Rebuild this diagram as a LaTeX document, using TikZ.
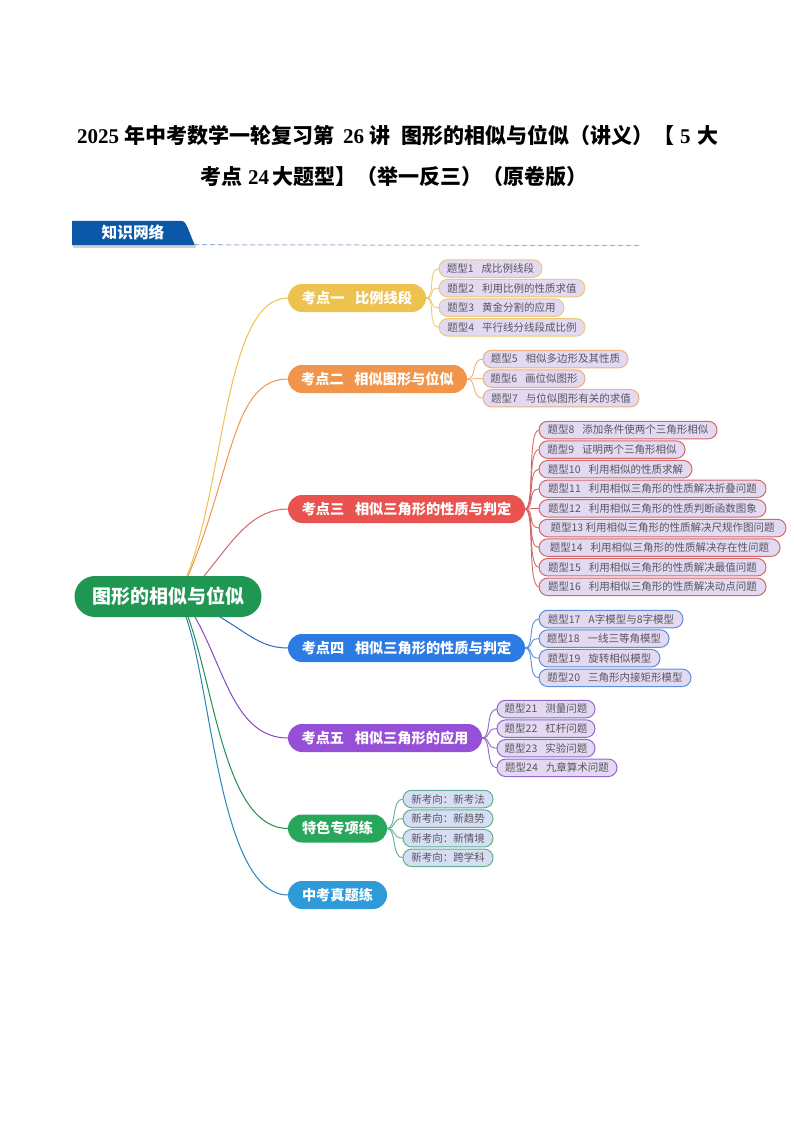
\documentclass[tikz,border=0pt]{standalone}
\usepackage{fontspec}
\setmainfont{Noto Sans CJK SC}
\newfontfamily\digitfont{Liberation Serif}
\usetikzlibrary{positioning}
\definecolor{kdyellow}{HTML}{EEC24F}
\definecolor{kdorange}{HTML}{F0954B}
\definecolor{kdred}{HTML}{E9534F}
\definecolor{kdblue}{HTML}{2C7BE5}
\definecolor{kdpurple}{HTML}{9650D8}
\definecolor{kdgreen}{HTML}{28A65B}
\definecolor{kdcyan}{HTML}{2E9BD8}
\definecolor{rootgreen}{HTML}{1F9651}
\definecolor{tabblue}{HTML}{0B57A8}
\definecolor{rulegray}{HTML}{9DB4D2}
\definecolor{txfill}{HTML}{E3DAF2}
\definecolor{xkfill}{HTML}{D5DEF2}
\definecolor{txtext}{HTML}{5A5560}
\definecolor{lineyellow}{HTML}{EDC878}
\definecolor{lineorange}{HTML}{EDB07E}
\definecolor{linered}{HTML}{D2686A}
\definecolor{lineblue}{HTML}{5C8FD6}
\definecolor{linepurple}{HTML}{9268CC}
\definecolor{linegreen}{HTML}{62AE90}
\newcommand{\gap}{\hspace{.75em}}
\tikzstyle{titletext} = [inner sep=0pt, anchor=west, text=black, font=\fontsize{21}{23}\selectfont\bfseries]
\tikzstyle{rootbox} = [fill=rootgreen, text=white, rounded corners=20.5pt, inner sep=0pt,
    outer sep=0pt, minimum width=187pt, minimum height=41pt, font=\fontsize{19}{21}\selectfont\bfseries]
\tikzstyle{kdbox} = [text=white, rounded corners=14pt, inner sep=0pt, outer sep=0pt,
    minimum height=28pt, anchor=west, font=\fontsize{14.2}{16}\selectfont\bfseries]
\tikzstyle{txbox} = [draw, fill=txfill, text=txtext, line width=1pt, rounded corners=8.7pt,
    inner sep=0pt, outer sep=0pt, minimum height=17.5pt, anchor=west, font=\fontsize{10.5}{12}\selectfont]
\tikzstyle{rootline} = [line width=1pt]
\tikzstyle{txline} = [line width=.9pt, to path={.. controls +(10,0) and +(-12,0) .. (\tikztotarget)}]
\begin{document}
\begin{tikzpicture}[x=1pt,y=-1pt]
\useasboundingbox (0,0) rectangle (794,1123);

\node [titletext] (title1) at (77,135) {{\digitfont 2025}\hspace{5pt}年中考数学一轮复习第\hspace{9pt}{\digitfont 26}\hspace{5pt}讲\hspace{11pt}图形的相似与位似（讲义）【\hspace{6pt}{\digitfont 5}\hspace{7pt}大};
\node [titletext] (title2) at (200,177) {考点\hspace{6pt}{\digitfont 24}\hspace{3pt}大题型】（举一反三）（原卷版）};

% heading tab
\fill [black, opacity=.18] (73,245) rectangle (196,248);
\fill [tabblue] (72,221) -- (182,221) .. controls (187,221) and (190,236) .. (195,245) -- (72,245) -- cycle;
\node [inner sep=0pt, minimum width=122pt, minimum height=24pt, text=white,
    font=\fontsize{15.7}{17}\selectfont\bfseries] (tab) at (133,232.5) {知识网络};
\coordinate (ruleend) at (642,245.5);
\draw [rulegray, dash pattern=on 5pt off 3pt, line width=1pt] (tab.south east) -- (ruleend);

% centre
\node [rootbox] (root) at (168,596.5) {图形的相似与位似};

% first level
\node [kdbox, fill=kdyellow, minimum width=138pt] (kd1) at (288,298) {考点一\gap 比例线段};
\node [kdbox, fill=kdorange, minimum width=179pt] (kd2) at (288,379) {考点二\gap 相似图形与位似};
\node [kdbox, fill=kdred, minimum width=237pt] (kd3) at (288,509) {考点三\gap 相似三角形的性质与判定};
\node [kdbox, fill=kdblue, minimum width=237pt] (kd4) at (288,648) {考点四\gap 相似三角形的性质与判定};
\node [kdbox, fill=kdpurple, minimum width=194pt] (kd5) at (288,738) {考点五\gap 相似三角形的应用};
\node [kdbox, fill=kdgreen, minimum width=99pt] (kd6) at (288,828.5) {特色专项练};
\node [kdbox, fill=kdcyan, minimum width=99pt] (kd7) at (288,895) {中考真题练};

% types of kd1
\node [txbox, draw=lineyellow, minimum width=103pt] (tx1) at (439,268.5) {题型1\gap 成比例线段};
\node [txbox, draw=lineyellow, minimum width=146pt, below=2.1pt of tx1.south west, anchor=north west] (tx2) {题型2\gap 利用比例的性质求值};
\node [txbox, draw=lineyellow, minimum width=125pt, below=2.1pt of tx2.south west, anchor=north west] (tx3) {题型3\gap 黄金分割的应用};
\node [txbox, draw=lineyellow, minimum width=146pt, below=2.1pt of tx3.south west, anchor=north west] (tx4) {题型4\gap 平行线分线段成比例};

% types of kd2
\node [txbox, draw=lineorange, minimum width=145pt] (tx5) at (483,359) {题型5\gap 相似多边形及其性质};
\node [txbox, draw=lineorange, minimum width=102pt, below=2.1pt of tx5.south west, anchor=north west] (tx6) {题型6\gap 画位似图形};
\node [txbox, draw=lineorange, minimum width=156pt, below=2.1pt of tx6.south west, anchor=north west] (tx7) {题型7\gap 与位似图形有关的求值};

% types of kd3
\node [txbox, draw=linered, minimum width=178pt] (tx8) at (539,430) {题型8\gap 添加条件使两个三角形相似};
\node [txbox, draw=linered, minimum width=146pt, below=2.1pt of tx8.south west, anchor=north west] (tx9) {题型9\gap 证明两个三角形相似};
\node [txbox, draw=linered, minimum width=153pt, below=2.1pt of tx9.south west, anchor=north west] (tx10) {题型10\gap 利用相似的性质求解};
\node [txbox, draw=linered, minimum width=227pt, below=2.1pt of tx10.south west, anchor=north west] (tx11) {题型11\gap 利用相似三角形的性质解决折叠问题};
\node [txbox, draw=linered, minimum width=227pt, below=2.1pt of tx11.south west, anchor=north west] (tx12) {题型12\gap 利用相似三角形的性质判断函数图象};
\node [txbox, draw=linered, minimum width=247pt, below=2.1pt of tx12.south west, anchor=north west] (tx13) {题型13 利用相似三角形的性质解决尺规作图问题};
\node [txbox, draw=linered, minimum width=241pt, below=2.1pt of tx13.south west, anchor=north west] (tx14) {题型14\gap 利用相似三角形的性质解决存在性问题};
\node [txbox, draw=linered, minimum width=227pt, below=2.1pt of tx14.south west, anchor=north west] (tx15) {题型15\gap 利用相似三角形的性质解决最值问题};
\node [txbox, draw=linered, minimum width=227pt, below=2.1pt of tx15.south west, anchor=north west] (tx16) {题型16\gap 利用相似三角形的性质解决动点问题};

% types of kd4
\node [txbox, draw=lineblue, minimum width=144pt] (tx17) at (539,619) {题型17\gap A字模型与8字模型};
\node [txbox, draw=lineblue, minimum width=130pt, below=2.1pt of tx17.south west, anchor=north west] (tx18) {题型18\gap 一线三等角模型};
\node [txbox, draw=lineblue, minimum width=121pt, below=2.1pt of tx18.south west, anchor=north west] (tx19) {题型19\gap 旋转相似模型};
\node [txbox, draw=lineblue, minimum width=152pt, below=2.1pt of tx19.south west, anchor=north west] (tx20) {题型20\gap 三角形内接矩形模型};

% types of kd5
\node [txbox, draw=linepurple, minimum width=98pt] (tx21) at (497,709) {题型21\gap 测量问题};
\node [txbox, draw=linepurple, minimum width=98pt, below=2.1pt of tx21.south west, anchor=north west] (tx22) {题型22\gap 杠杆问题};
\node [txbox, draw=linepurple, minimum width=98pt, below=2.1pt of tx22.south west, anchor=north west] (tx23) {题型23\gap 实验问题};
\node [txbox, draw=linepurple, minimum width=120pt, below=2.1pt of tx23.south west, anchor=north west] (tx24) {题型24\gap 九章算术问题};

% types of kd6
\node [txbox, draw=linegreen, fill=xkfill, minimum width=90pt] (xk1) at (403,799) {新考向：新考法};
\node [txbox, draw=linegreen, fill=xkfill, minimum width=90pt, below=2.1pt of xk1.south west, anchor=north west] (xk2) {新考向：新趋势};
\node [txbox, draw=linegreen, fill=xkfill, minimum width=90pt, below=2.1pt of xk2.south west, anchor=north west] (xk3) {新考向：新情境};
\node [txbox, draw=linegreen, fill=xkfill, minimum width=90pt, below=2.1pt of xk3.south west, anchor=north west] (xk4) {新考向：跨学科};

% root to first level
\draw [rootline, kdyellow] ([xshift=19pt]root.north) .. controls (225,480) and (225,298) .. (kd1.west);
\draw [rootline, kdorange] ([xshift=20pt]root.north) .. controls (233,470) and (232,379) .. (kd2.west);
\draw [rootline, linered] ([xshift=36pt]root.north) .. controls (230,545) and (250,509) .. (kd3.west);
\draw [rootline, kdblue!85!black] ([xshift=52pt]root.south) .. controls (250,635) and (262,648) .. (kd4.west);
\draw [rootline, kdpurple!90!black] ([xshift=27pt]root.south) .. controls (225,670) and (235,738) .. (kd5.west);
\draw [rootline, kdgreen!85!black] ([xshift=20pt]root.south) .. controls (215,690) and (225,828.5) .. (kd6.west);
\draw [rootline, kdcyan!85!black] ([xshift=18pt]root.south) .. controls (212,690) and (220,895) .. (kd7.west);

% first level to types
\draw [txline, lineyellow] (kd1.east) to (tx1.west);
\draw [txline, lineyellow] (kd1.east) to (tx2.west);
\draw [txline, lineyellow] (kd1.east) to (tx3.west);
\draw [txline, lineyellow] (kd1.east) to (tx4.west);
\draw [txline, lineorange] (kd2.east) to (tx5.west);
\draw [txline, lineorange] (kd2.east) to (tx6.west);
\draw [txline, lineorange] (kd2.east) to (tx7.west);
\draw [txline, linered] (kd3.east) to (tx8.west);
\draw [txline, linered] (kd3.east) to (tx9.west);
\draw [txline, linered] (kd3.east) to (tx10.west);
\draw [txline, linered] (kd3.east) to (tx11.west);
\draw [txline, linered] (kd3.east) to (tx12.west);
\draw [txline, linered] (kd3.east) to (tx13.west);
\draw [txline, linered] (kd3.east) to (tx14.west);
\draw [txline, linered] (kd3.east) to (tx15.west);
\draw [txline, linered] (kd3.east) to (tx16.west);
\draw [txline, lineblue] (kd4.east) to (tx17.west);
\draw [txline, lineblue] (kd4.east) to (tx18.west);
\draw [txline, lineblue] (kd4.east) to (tx19.west);
\draw [txline, lineblue] (kd4.east) to (tx20.west);
\draw [txline, linepurple] (kd5.east) to (tx21.west);
\draw [txline, linepurple] (kd5.east) to (tx22.west);
\draw [txline, linepurple] (kd5.east) to (tx23.west);
\draw [txline, linepurple] (kd5.east) to (tx24.west);
\draw [txline, linegreen] (kd6.east) to (xk1.west);
\draw [txline, linegreen] (kd6.east) to (xk2.west);
\draw [txline, linegreen] (kd6.east) to (xk3.west);
\draw [txline, linegreen] (kd6.east) to (xk4.west);

\end{tikzpicture}
\end{document}
